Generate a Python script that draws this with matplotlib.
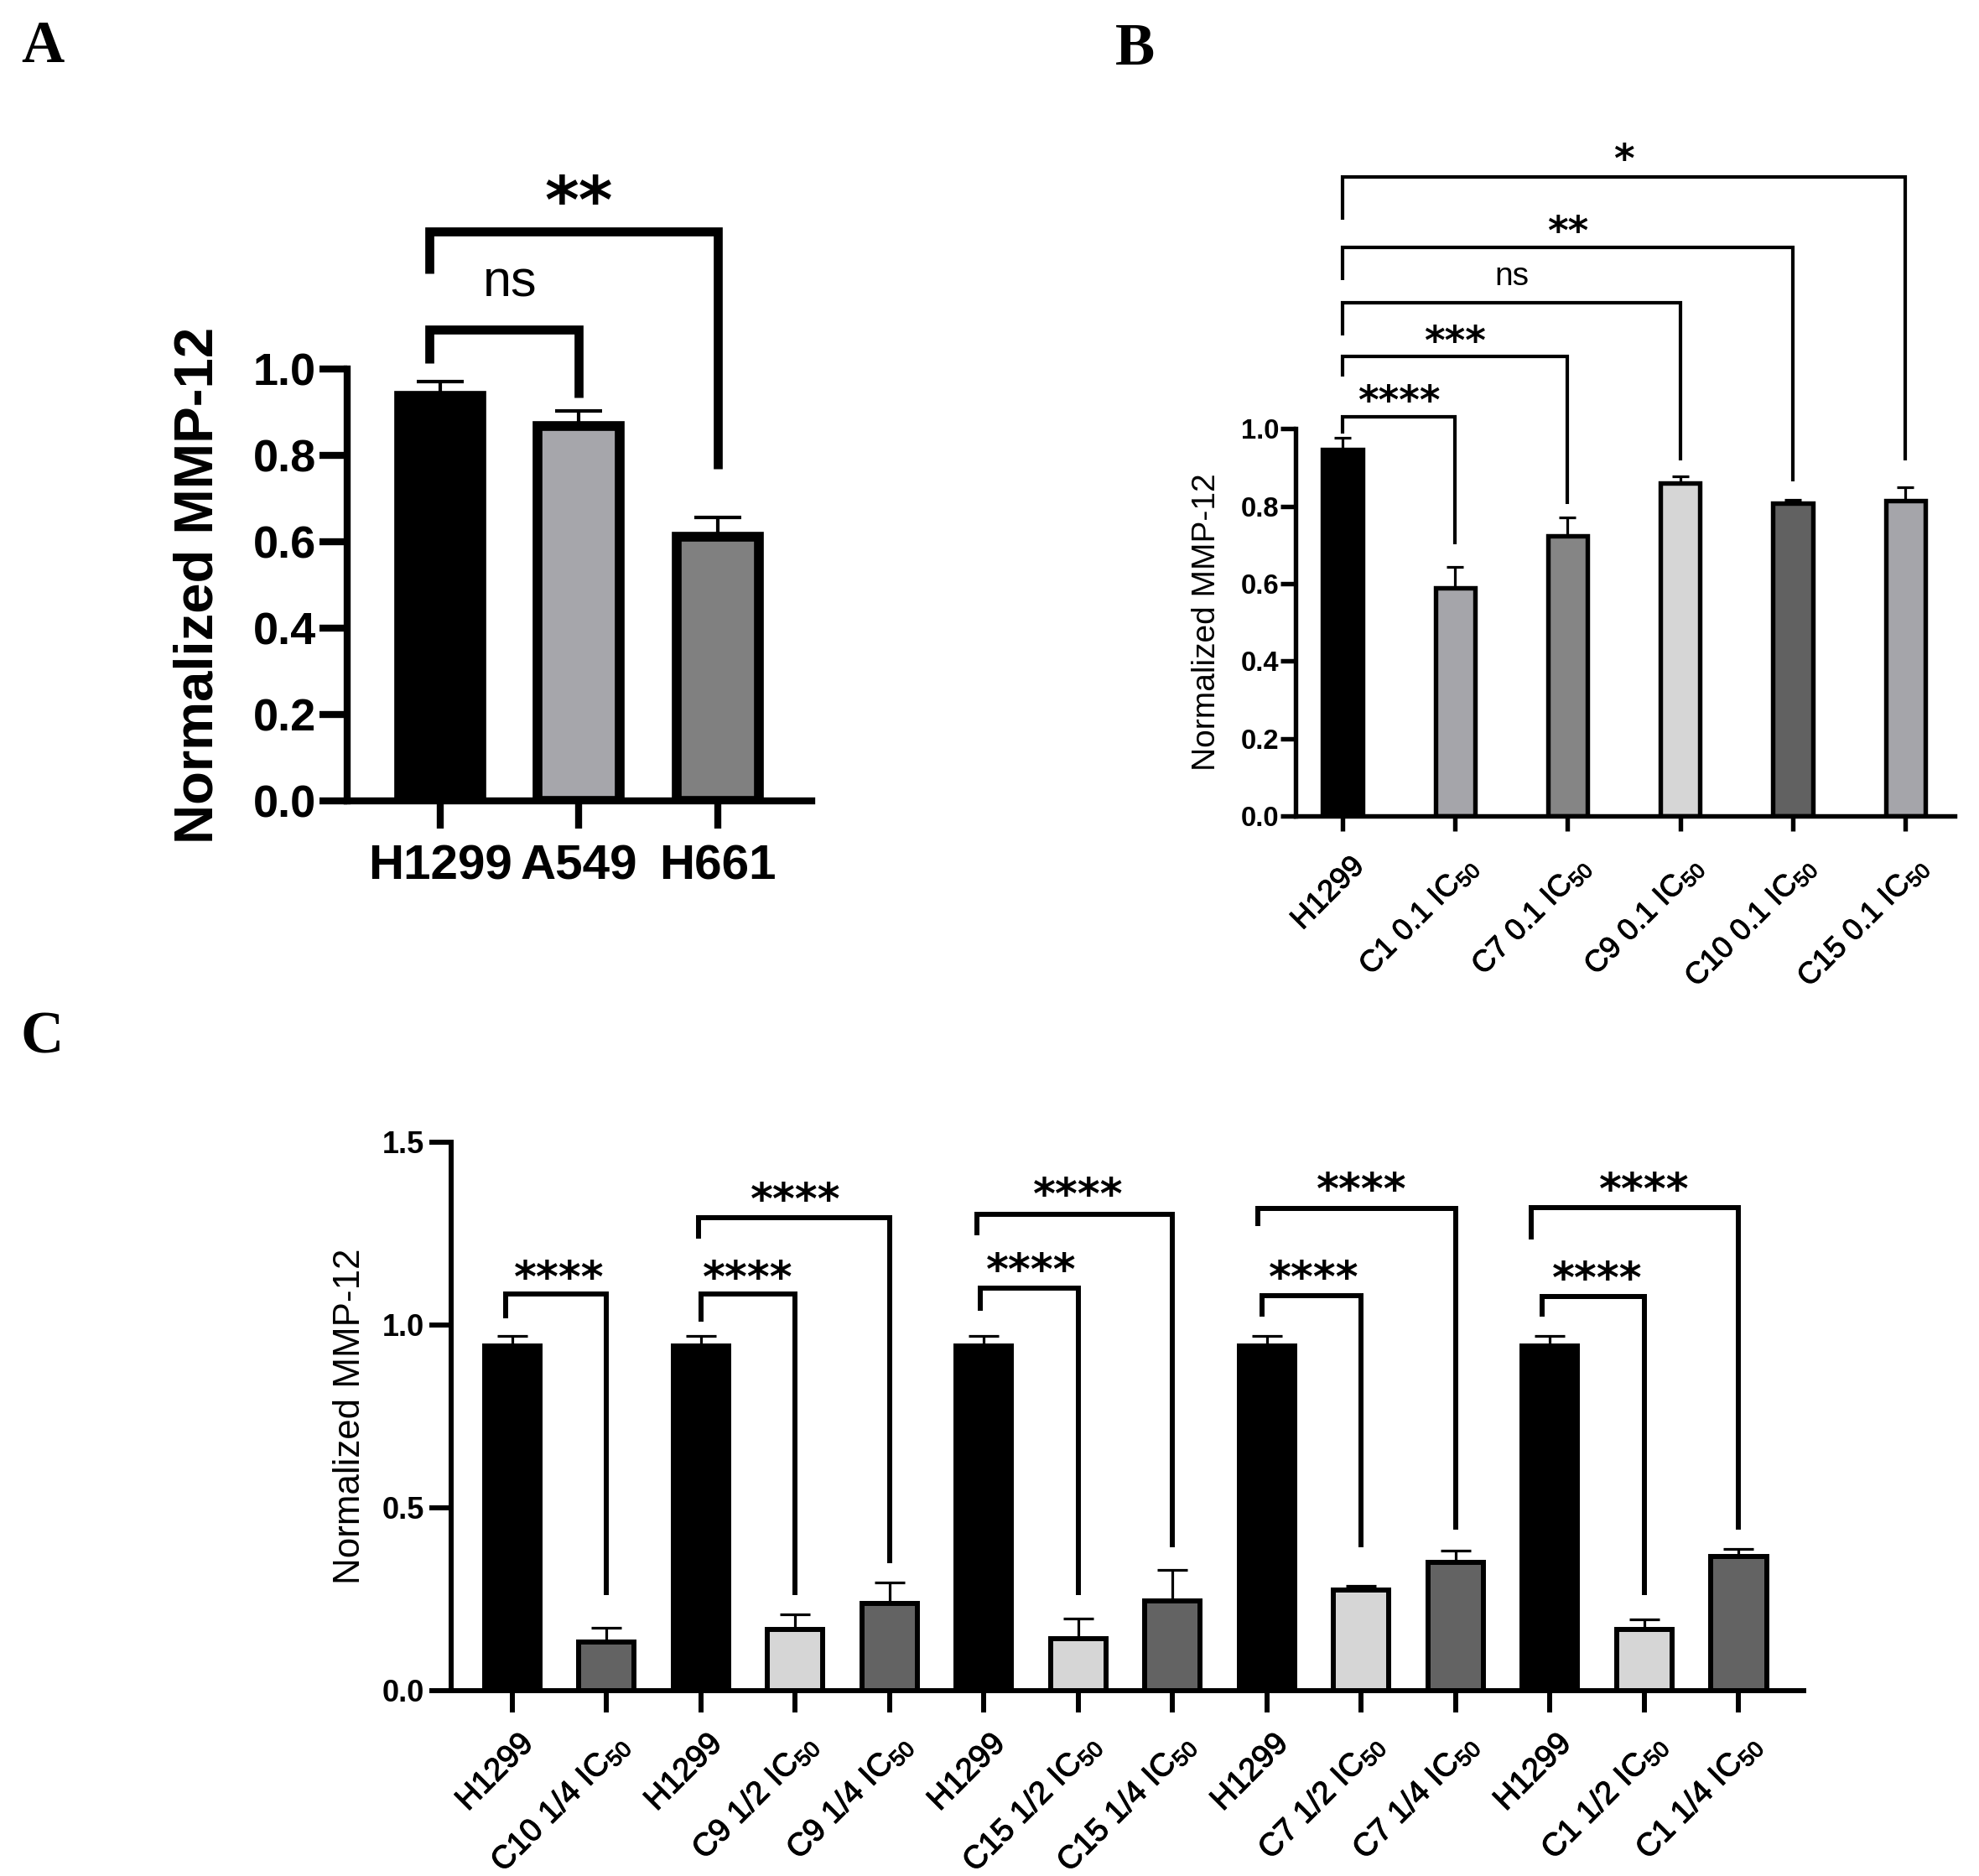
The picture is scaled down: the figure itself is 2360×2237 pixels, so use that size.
import numpy as np
import matplotlib
matplotlib.use('Agg')
import matplotlib.pyplot as plt
import matplotlib.patheffects as pe
from matplotlib.ticker import FormatStrFormatter
from matplotlib.transforms import ScaledTranslation

plt.rcParams['font.family'] = ['Liberation Sans', 'DejaVu Sans']
plt.rcParams['mathtext.fontset'] = 'custom'
plt.rcParams['mathtext.rm'] = 'Liberation Sans'
plt.rcParams['mathtext.it'] = 'Liberation Sans:italic'
plt.rcParams['mathtext.bf'] = 'Liberation Sans:bold'

# ---------------- data ----------------
a_labels = ['H1299', 'A549', 'H661']
a_values = [0.938, 0.868, 0.612]
a_errors = [0.034, 0.035, 0.045]
a_colors = ['#000000', '#a6a6ab', '#808080']
# (i, j, bracket_y, left_leg_bottom, right_leg_bottom, text, text_y, left_dx)
a_brackets = [(0, 1, 1.092, 1.015, 0.935, 'ns', 1.20, -0.08),
              (0, 2, 1.320, 1.222, 0.770, '**', 1.42, -0.08)]

b_labels = ['H1299', 'C1 0.1 IC$_{50}$', 'C7 0.1 IC$_{50}$', 'C9 0.1 IC$_{50}$',
            'C10 0.1 IC$_{50}$', 'C15 0.1 IC$_{50}$']
b_values = [0.946, 0.589, 0.723, 0.859, 0.807, 0.815]
b_errors = [0.030, 0.054, 0.047, 0.017, 0.010, 0.034]
b_colors = ['#000000', '#a5a5aa', '#858585', '#d6d6d6', '#616161', '#a5a5aa']
b_brackets = [(0, 1, 1.030, 0.987, 0.702, '****', 1.095, 0.0),
              (0, 2, 1.186, 1.135, 0.805, '***', 1.249, 0.0),
              (0, 3, 1.324, 1.241, 0.919, 'ns', 1.392, 0.0),
              (0, 4, 1.468, 1.384, 0.863, '**', 1.532, 0.0),
              (0, 5, 1.649, 1.540, 0.919, '*', 1.717, 0.0)]

c_labels = ['H1299', 'C10 1/4 IC$_{50}$',
            'H1299', 'C9 1/2 IC$_{50}$', 'C9 1/4 IC$_{50}$',
            'H1299', 'C15 1/2 IC$_{50}$', 'C15 1/4 IC$_{50}$',
            'H1299', 'C7 1/2 IC$_{50}$', 'C7 1/4 IC$_{50}$',
            'H1299', 'C1 1/2 IC$_{50}$', 'C1 1/4 IC$_{50}$']
c_values = [0.942, 0.133, 0.942, 0.168, 0.238, 0.942, 0.142, 0.245,
            0.942, 0.275, 0.351, 0.942, 0.168, 0.366]
c_errors = [0.028, 0.039, 0.028, 0.041, 0.058, 0.028, 0.055, 0.085,
            0.028, 0.011, 0.031, 0.028, 0.027, 0.022]
c_colors = ['#000000', '#636363', '#000000', '#d6d6d6', '#636363',
            '#000000', '#d6d6d6', '#636363', '#000000', '#d6d6d6', '#636363',
            '#000000', '#d6d6d6', '#636363']
c_brackets = [(0, 1, 1.084, 1.018, 0.261, '****', 1.155, -0.07),
              (2, 3, 1.084, 1.008, 0.261, '****', 1.155, 0.0),
              (2, 4, 1.293, 1.235, 0.348, '****', 1.369, -0.02),
              (5, 6, 1.100, 1.038, 0.261, '****', 1.176, -0.04),
              (5, 7, 1.303, 1.245, 0.392, '****', 1.382, -0.07),
              (8, 9, 1.080, 1.022, 0.392, '****', 1.155, -0.05),
              (8, 10, 1.318, 1.270, 0.440, '****', 1.396, -0.10),
              (11, 12, 1.077, 1.022, 0.261, '****', 1.153, -0.08),
              (11, 13, 1.320, 1.234, 0.440, '****', 1.396, -0.20)]

# ---------------- figure ----------------
W, H = 2360, 2237
DPI = 100
fig = plt.figure(figsize=(W / DPI, H / DPI), dpi=DPI)


def panel(rect, labels, values, errors, colors, brackets, *, xlim, ylim, yticks,
          barw, edge_lw, spine_lw, tick_len, tick_w, ytick_fs, xtick_fs, ypad, xpad,
          rot, ylabel_fs, ylabel_bold, ylabel_x, elw, capsize, br_lw, star_fs,
          ns_fs, xshift=0.0, xtick_weight='bold', xtick_stroke=0.0):
    ax = fig.add_axes(rect)
    x = np.arange(len(values))
    ax.bar(x, values, width=barw, color=colors, edgecolor='black',
           linewidth=edge_lw, zorder=2)
    ax.errorbar(x, values, yerr=[np.zeros(len(values)), errors], fmt='none',
                ecolor='black', elinewidth=elw, capsize=capsize, capthick=elw,
                zorder=3)
    ax.set_xlim(*xlim)
    ax.set_ylim(*ylim)
    ax.set_yticks(yticks)
    ax.yaxis.set_major_formatter(FormatStrFormatter('%.1f'))
    ax.set_xticks(x)
    ax.set_xticklabels(labels, fontsize=xtick_fs, fontweight=xtick_weight)
    for lab in ax.get_yticklabels():
        lab.set_fontsize(ytick_fs)
        lab.set_fontweight('bold')
    for s in ['top', 'right']:
        ax.spines[s].set_visible(False)
    for s in ['left', 'bottom']:
        ax.spines[s].set_linewidth(spine_lw)
        ax.spines[s].set_capstyle('projecting')
    ax.tick_params(axis='both', direction='out', length=tick_len, width=tick_w)
    ax.tick_params(axis='y', pad=ypad)
    ax.tick_params(axis='x', pad=xpad)
    if rot:
        for lab in ax.get_xticklabels():
            lab.set_rotation(45)
            lab.set_ha('right')
            lab.set_va('top')
            lab.set_rotation_mode('anchor')
            lab.set_transform(lab.get_transform() +
                              ScaledTranslation(xshift / 72, 0, fig.dpi_scale_trans))
            if xtick_stroke > 0:
                lab.set_path_effects([pe.withStroke(linewidth=xtick_stroke,
                                                    foreground='black')])
    ax.set_ylabel('Normalized MMP-12', fontsize=ylabel_fs,
                  fontweight='bold' if ylabel_bold else 'normal')
    ax.yaxis.set_label_coords(ylabel_x, 0.5)

    for (i, j, yb, lb, rb, txt, ty, dx) in brackets:
        xl = x[i] + dx
        ax.plot([xl, xl, x[j], x[j]], [lb, yb, yb, rb], color='black',
                lw=br_lw, solid_capstyle='butt', solid_joinstyle='miter',
                clip_on=False, zorder=4)
        xm = (x[i] + x[j]) / 2
        if txt == 'ns':
            ax.annotate(txt, xy=(xm, ty), xytext=(0, -0.26 * ns_fs),
                        textcoords='offset points', ha='center', va='baseline',
                        fontsize=ns_fs, annotation_clip=False)
        else:
            ax.annotate(txt, xy=(xm, ty), xytext=(0, -0.54 * star_fs),
                        textcoords='offset points', ha='center', va='baseline',
                        fontsize=star_fs, fontweight='bold',
                        family=['DejaVu Sans'], annotation_clip=False)
    return ax


# Panel A
panel([0.1754, 0.5729, 0.2347, 0.2302], a_labels, a_values, a_errors, a_colors,
      a_brackets, xlim=(-0.674, 2.68), ylim=(0, 1.0),
      yticks=[0, 0.2, 0.4, 0.6, 0.8, 1.0], barw=0.593, edge_lw=8.4, spine_lw=6.0,
      tick_len=23.5, tick_w=6.0, ytick_fs=39, xtick_fs=42, ypad=3, xpad=13.5,
      rot=False, ylabel_fs=47, ylabel_bold=True, ylabel_x=-0.266, elw=3.0,
      capsize=20, br_lw=7.7, star_fs=56, ns_fs=44)

# Panel B
panel([0.6547, 0.5650, 0.3331, 0.2065], b_labels, b_values, b_errors, b_colors,
      b_brackets, xlim=(-0.417, 5.44), ylim=(0, 1.0),
      yticks=[0, 0.2, 0.4, 0.6, 0.8, 1.0], barw=0.352, edge_lw=3.9, spine_lw=3.9,
      tick_len=13.3, tick_w=3.9, ytick_fs=23.6, xtick_fs=26, ypad=0.8, xpad=17,
      rot=True, ylabel_fs=28, ylabel_bold=False, ylabel_x=-0.112, elw=2.3,
      capsize=7.3, br_lw=3.0, star_fs=34, ns_fs=28, xshift=6,
      xtick_weight='normal', xtick_stroke=0.7)

# Panel C
panel([0.2280, 0.0988, 0.6835, 0.2924], c_labels, c_values, c_errors, c_colors,
      c_brackets, xlim=(-0.645, 13.69), ylim=(0, 1.5),
      yticks=[0, 0.5, 1.0, 1.5], barw=0.587, edge_lw=4.3, spine_lw=4.3,
      tick_len=18.5, tick_w=4.3, ytick_fs=26, xtick_fs=27.5, ypad=4.3, xpad=14,
      rot=True, ylabel_fs=31.6, ylabel_bold=False, ylabel_x=-0.062, elw=2.3,
      capsize=13, br_lw=4.3, star_fs=37, ns_fs=30, xshift=5,
      xtick_weight='normal', xtick_stroke=0.8)

# panel letters
for letter, px, py in [('A', 25, 74), ('B', 1330, 77), ('C', 25, 1256)]:
    fig.text(px / W, 1 - py / H, letter, fontsize=51, fontweight='bold',
             family=['Liberation Serif', 'DejaVu Serif'], ha='left', va='baseline')

fig.savefig('out.png', dpi=DPI, facecolor='white')
